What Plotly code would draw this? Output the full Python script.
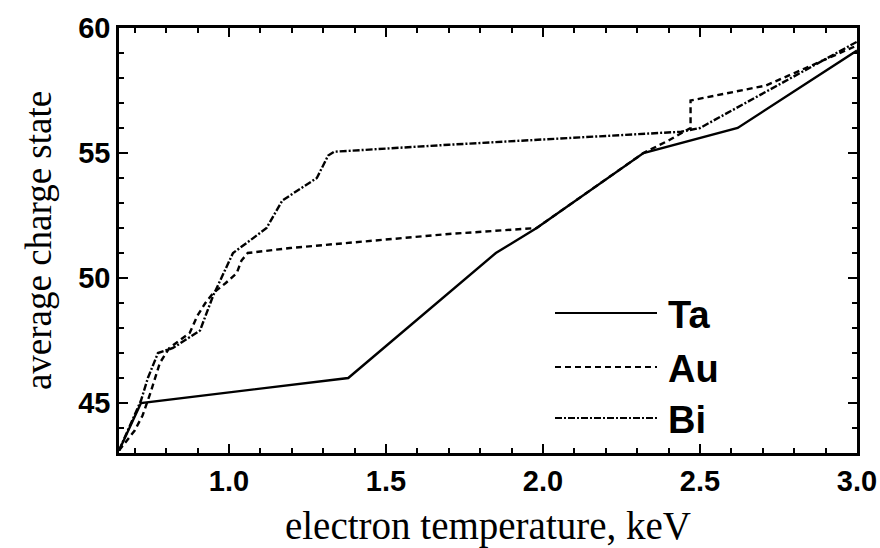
import plotly.graph_objects as go

# Data
ta_x = [0.65, 0.72, 1.38, 1.85, 1.98, 2.32, 2.62, 3.0]
ta_y = [43.1, 45.0, 46.0, 51.0, 52.0, 55.0, 56.0, 59.1]

au_x = [0.65, 0.70, 0.725, 0.75, 0.78, 0.81, 0.875, 0.90, 0.925, 0.95, 0.99, 1.025, 1.04, 1.06,
        1.195, 1.70, 1.98, 2.32, 2.40, 2.47, 2.47, 2.71, 3.0]
au_y = [43.1, 43.9, 44.5, 45.4, 46.6, 47.2, 47.8, 48.5, 49.0, 49.4, 49.8, 50.2, 50.7, 51.0,
        51.2, 51.76, 52.0, 55.0, 55.5, 56.0, 57.1, 57.7, 59.3]

bi_x = [0.65, 0.72, 0.742, 0.774, 0.822, 0.908, 0.95, 1.013, 1.067, 1.12, 1.17, 1.28, 1.316,
        1.335, 1.70, 2.44, 2.50, 3.0]
bi_y = [43.1, 45.1, 46.0, 47.0, 47.2, 47.9, 49.3, 51.0, 51.5, 52.0, 53.1, 54.0, 54.9,
        55.05, 55.33, 55.85, 56.0, 59.45]

names = ["Ta", "Au", "Bi"]
dashes = ["solid", "6px,4px", "7px,2px,2px,2px"]

x_range = [0.65, 3.0]
y_range = [43, 60]
x_tickvals = [1.0, 1.5, 2.0, 2.5, 3.0]
y_tickvals = [45, 50, 55, 60]

fig = go.Figure()
for xs, ys, nm, ds in zip([ta_x, au_x, bi_x], [ta_y, au_y, bi_y], names, dashes):
    fig.add_trace(go.Scatter(x=xs, y=ys, mode="lines", name=nm,
                             line=dict(color="black", width=2.4, dash=ds),
                             showlegend=False))

# Plot area in pixels: left 119, right 857, top 28, bottom 453
L, R, T, B = 119, 857, 28, 453
W, H = 880, 548


def px(xp):
    return (xp - L) / (R - L)


def py(yp):
    return (B - yp) / (B - T)


legend_rows = [313, 367, 418]
for nm, ds, yy in zip(names, dashes, legend_rows):
    fig.add_shape(type="line", xref="paper", yref="paper",
                  x0=px(555), x1=px(657), y0=py(yy), y1=py(yy),
                  line=dict(color="black", width=2.2, dash=ds))
    fig.add_annotation(xref="paper", yref="paper", x=px(666), y=py(yy + 2),
                       text="<b>" + nm + "</b>", showarrow=False, xanchor="left", yanchor="middle",
                       font=dict(family="Liberation Sans", size=38, color="black"))

axis_common = dict(showline=True, linecolor="black", linewidth=2.5, mirror="ticks",
                   ticks="inside", ticklen=9, tickwidth=2, tickcolor="black",
                   showgrid=False, zeroline=False, automargin=False,
                   tickfont=dict(family="Liberation Sans", size=29, color="black", weight="bold"))

fig.update_xaxes(range=x_range, tickvals=x_tickvals, tickformat=".1f",
                 minor=dict(dtick=0.1, tick0=0, ticks="inside", ticklen=5, tickwidth=1.5,
                            tickcolor="black", showgrid=False),
                 title=dict(text="electron temperature, keV", standoff=20,
                            font=dict(family="Liberation Serif", size=39, color="black")),
                 **axis_common)
fig.update_yaxes(range=y_range, tickvals=y_tickvals,
                 minor=dict(dtick=1, tick0=0, ticks="inside", ticklen=5, tickwidth=1.5,
                            tickcolor="black", showgrid=False),
                 title=dict(text="average charge state", standoff=16,
                            font=dict(family="Liberation Serif", size=37, color="black")),
                 **axis_common)

fig.update_layout(width=W, height=H, margin=dict(l=L, r=W - R, t=T, b=H - B),
                  plot_bgcolor="white", paper_bgcolor="white")

fig.write_html("out.html")
